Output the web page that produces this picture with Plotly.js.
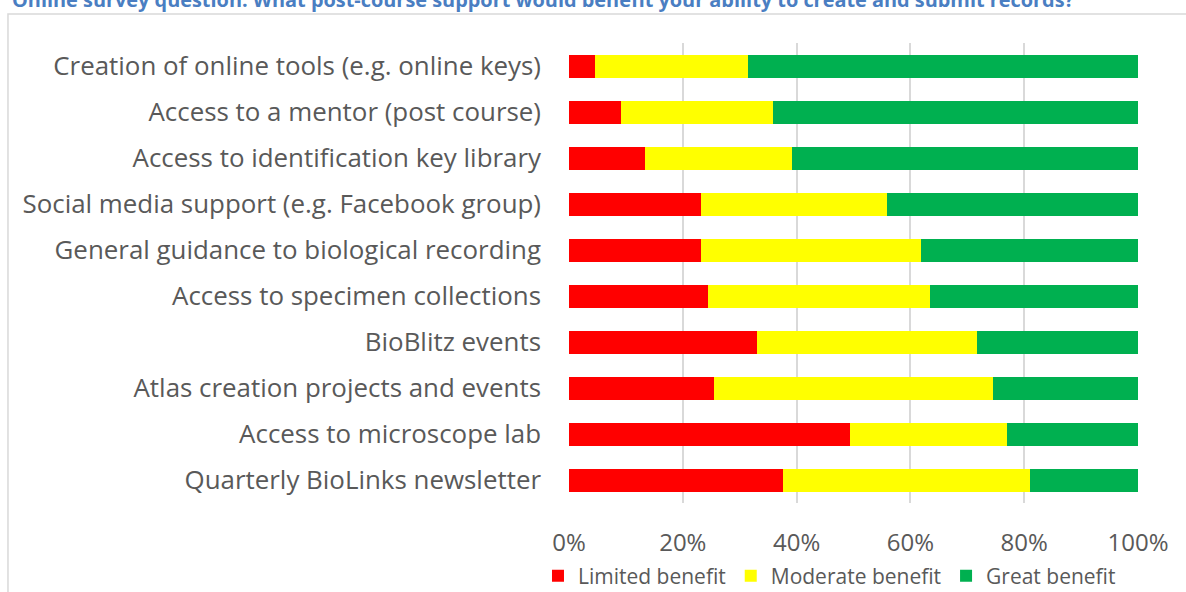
<!DOCTYPE html>
<html>
<head>
<meta charset="utf-8">
<script src="https://cdn.plot.ly/plotly-3.0.1.min.js"></script>
<style>html,body{margin:0;padding:0;background:#fff;}#chart{width:1186px;height:592px;}</style>
</head>
<body>
<div id="chart"></div>
<script>
const categories = [
  "Creation of online tools (e.g. online keys)",
  "Access to a mentor (post course)",
  "Access to identification key library",
  "Social media support (e.g. Facebook group)",
  "General guidance to biological recording",
  "Access to specimen collections",
  "BioBlitz events",
  "Atlas creation projects and events",
  "Access to microscope lab",
  "Quarterly BioLinks newsletter"
];
const limited  = [4.5, 9.1, 13.4, 23.2, 23.2, 24.4, 33.0, 25.4, 49.3, 37.6];
const moderate = [27.0, 26.8, 25.8, 32.6, 38.7, 39.1, 38.7, 49.1, 27.7, 43.4];
const great    = [68.5, 64.1, 60.8, 44.2, 38.1, 36.5, 28.3, 25.5, 23.0, 19.0];
const seriesNames = ["Limited benefit", "Moderate benefit", "Great benefit"];
const xTickVals = [0, 20, 40, 60, 80, 100];
const xTickText = ["0%", "20%", "40%", "60%", "80%", "100%"];
const titleText = "Online survey question: What post-course support would benefit your ability to create and submit records?";

const colors = ["#FF0000", "#FFFF00", "#00B050"];
const values = [limited, moderate, great];
const traces = values.map((v, i) => ({
  type: "bar",
  orientation: "h",
  name: seriesNames[i],
  x: v,
  y: categories,
  marker: {color: colors[i], line: {width: 0}},
  hoverinfo: "x+y+name"
}));

const font = "'Open Sans', Lato, sans-serif";
const layout = {
  width: 1186,
  height: 592,
  margin: {l: 569, r: 48, t: 43, b: 89},
  barmode: "stack",
  bargap: 0.5,
  paper_bgcolor: "#fff",
  plot_bgcolor: "#fff",
  showlegend: true,
  font: {family: font, color: "#595959"},
  xaxis: {
    range: [0, 100],
    tickvals: xTickVals,
    ticktext: xTickText,
    showgrid: true,
    gridcolor: "#D9D9D9",
    gridwidth: 1.5,
    zeroline: false,
    showline: false,
    ticks: "",
    automargin: false,
    ticklabelstandoff: 23,
    tickfont: {size: 24, color: "#595959", family: font},
    fixedrange: true
  },
  yaxis: {
    autorange: "reversed",
    showgrid: false,
    zeroline: false,
    showline: false,
    ticks: "",
    automargin: false,
    ticklabelstandoff: 27,
    tickfont: {size: 25.9, color: "#595959", family: font},
    fixedrange: true
  },
  legend: {
    orientation: "h",
    xref: "paper",
    x: -0.0545,
    xanchor: "left",
    yref: "container",
    y: 0.027,
    yanchor: "middle",
    font: {size: 21, color: "#595959", family: font},
    traceorder: "normal",
    itemwidth: 30
  },
  annotations: [{
    text: "<b>" + titleText + "</b>",
    xref: "paper", yref: "paper",
    x: -0.982, xanchor: "left",
    y: 1.0935, yanchor: "middle",
    showarrow: false,
    font: {size: 19.9, color: "#4A7EC2", family: font}
  }],
  shapes: [{
    type: "rect",
    xref: "paper", yref: "paper",
    x0: -0.986, x1: 1.2, y0: -0.3, y1: 1.063,
    line: {color: "#D9D9D9", width: 1.5},
    fillcolor: "rgba(0,0,0,0)",
    layer: "below"
  }]
};

Plotly.newPlot("chart", traces, layout, {displayModeBar: false, responsive: false});
</script>
</body>
</html>
